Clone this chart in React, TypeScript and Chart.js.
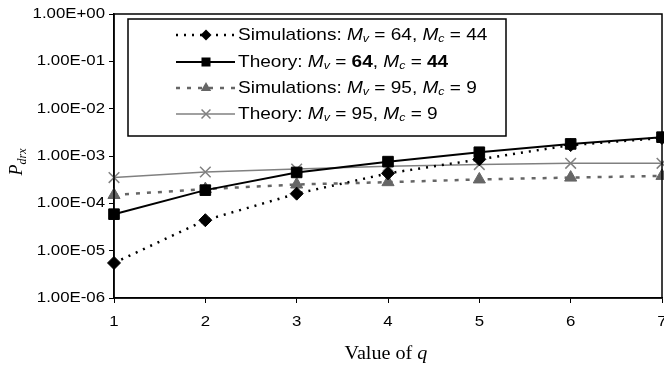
import React, { useEffect, useRef } from "react";
import { Chart, registerables } from "chart.js";

Chart.register(...registerables);

const qValues = [1, 2, 3, 4, 5, 6, 7];
const simA = [5.5e-6, 4.4e-5, 1.6e-4, 4.3e-4, 8.5e-4, 1.7e-3, 2.4e-3];
const theoryA = [5.9e-5, 1.9e-4, 4.5e-4, 7.6e-4, 1.2e-3, 1.8e-3, 2.5e-3];
const simB = [1.5e-4, 2.0e-4, 2.5e-4, 2.8e-4, 3.2e-4, 3.5e-4, 3.8e-4];
const theoryB = [3.5e-4, 4.6e-4, 5.3e-4, 6.1e-4, 6.6e-4, 7.0e-4, 7.0e-4];
const yTickValues = [1e-6, 1e-5, 1e-4, 1e-3, 1e-2, 1e-1, 1];
const yTickLabels = ["1.00E-06", "1.00E-05", "1.00E-04", "1.00E-03", "1.00E-02", "1.00E-01", "1.00E+00"];
const xTickLabels = ["1", "2", "3", "4", "5", "6", "7"];

type Seg = { t: string; s: "n" | "i" | "b" | "sub" };
const legendTexts: Seg[][] = [
  [{ t: "Simulations: ", s: "n" }, { t: "M", s: "i" }, { t: "v", s: "sub" }, { t: " = 64, ", s: "n" }, { t: "M", s: "i" }, { t: "c", s: "sub" }, { t: " = 44", s: "n" }],
  [{ t: "Theory: ", s: "n" }, { t: "M", s: "i" }, { t: "v", s: "sub" }, { t: " = ", s: "n" }, { t: "64", s: "b" }, { t: ", ", s: "n" }, { t: "M", s: "i" }, { t: "c", s: "sub" }, { t: " = ", s: "n" }, { t: "44", s: "b" }],
  [{ t: "Simulations: ", s: "n" }, { t: "M", s: "i" }, { t: "v", s: "sub" }, { t: " = 95, ", s: "n" }, { t: "M", s: "i" }, { t: "c", s: "sub" }, { t: " = 9", s: "n" }],
  [{ t: "Theory: ", s: "n" }, { t: "M", s: "i" }, { t: "v", s: "sub" }, { t: " = 95, ", s: "n" }, { t: "M", s: "i" }, { t: "c", s: "sub" }, { t: " = 9", s: "n" }],
];

const SANS = "Arial, 'Liberation Sans', sans-serif";
const SERIF = "'Times New Roman', 'Liberation Serif', serif";
const STRETCH = 1.12;

const datasetsStyle = [
  { color: "#000", width: 2.5, dash: [2, 6], point: "rectRot", r: 6.5 },
  { color: "#000", width: 2, dash: [] as number[], point: "rect", r: 7.5 },
  { color: "#666", width: 2.5, dash: [4, 7], point: "triangle", r: 7 },
  { color: "#808080", width: 1.5, dash: [] as number[], point: "crossRot", r: 7.5 },
];

function marker(ctx: CanvasRenderingContext2D, style: string, r: number, color: string, x: number, y: number) {
  ctx.save();
  ctx.fillStyle = color;
  ctx.strokeStyle = color;
  ctx.setLineDash([]);
  ctx.beginPath();
  if (style === "rectRot") {
    ctx.moveTo(x, y - r); ctx.lineTo(x + r, y); ctx.lineTo(x, y + r); ctx.lineTo(x - r, y); ctx.closePath(); ctx.fill();
  } else if (style === "rect") {
    const s = r / Math.SQRT2;
    ctx.rect(x - s, y - s, 2 * s, 2 * s); ctx.fill();
  } else if (style === "triangle") {
    ctx.moveTo(x, y - r); ctx.lineTo(x + r * 0.87, y + r * 0.5); ctx.lineTo(x - r * 0.87, y + r * 0.5); ctx.closePath(); ctx.fill();
  } else {
    const s = r * 0.7;
    ctx.lineWidth = 1.5;
    ctx.moveTo(x - s, y - s); ctx.lineTo(x + s, y + s); ctx.moveTo(x + s, y - s); ctx.lineTo(x - s, y + s); ctx.stroke();
  }
  ctx.restore();
}

function stretchedText(ctx: CanvasRenderingContext2D, text: string, x: number, y: number, font: string, align: "left" | "right" | "center") {
  ctx.save();
  ctx.font = font;
  const w = ctx.measureText(text).width * STRETCH;
  let x0 = x;
  if (align === "right") x0 = x - w;
  if (align === "center") x0 = x - w / 2;
  ctx.translate(x0, y);
  ctx.scale(STRETCH, 1);
  ctx.textAlign = "left";
  ctx.fillText(text, 0, 0);
  ctx.restore();
  return w;
}

const overlay = {
  id: "overlay",
  afterDraw(chart: any) {
    const ctx = chart.ctx;
    const a = chart.chartArea;
    const xs = chart.scales.x;
    const ys = chart.scales.y;
    ctx.save();
    ctx.strokeStyle = "#000";
    ctx.lineWidth = 1.5;
    ctx.strokeRect(a.left, a.top, a.right - a.left, a.bottom - a.top);

    ctx.fillStyle = "#000";
    ctx.textBaseline = "middle";
    yTickValues.forEach((v, i) => {
      stretchedText(ctx, yTickLabels[i], 105, ys.getPixelForValue(v), `15px ${SANS}`, "right");
    });
    qValues.forEach((v, i) => {
      stretchedText(ctx, xTickLabels[i], xs.getPixelForValue(v), 322, `15px ${SANS}`, "center");
    });

    const bx = 128, by = 19, bw = 378, bh = 117;
    ctx.fillStyle = "#fff";
    ctx.fillRect(bx, by, bw, bh);
    ctx.strokeStyle = "#000";
    ctx.lineWidth = 1.5;
    ctx.strokeRect(bx, by, bw, bh);
    const rows = [35, 62, 88, 114];
    rows.forEach((ry, i) => {
      const st = datasetsStyle[i];
      ctx.strokeStyle = st.color;
      ctx.lineWidth = st.width;
      ctx.setLineDash(st.dash);
      ctx.beginPath();
      ctx.moveTo(176, ry);
      ctx.lineTo(235, ry);
      ctx.stroke();
      ctx.setLineDash([]);
      marker(ctx, st.point, st.r * 0.85, st.color, 206, ry);
      let x = 238;
      ctx.fillStyle = "#000";
      ctx.textBaseline = "middle";
      for (const seg of legendTexts[i]) {
        let font = `17px ${SANS}`;
        let dy = 0;
        if (seg.s === "i") font = `italic 17px ${SANS}`;
        if (seg.s === "b") font = `bold 17px ${SANS}`;
        if (seg.s === "sub") { font = `italic 11px ${SANS}`; dy = 4; }
        x += stretchedText(ctx, seg.t, x, ry + dy, font, "left");
      }
    });

    ctx.textBaseline = "alphabetic";
    ctx.fillStyle = "#000";
    const t1 = "Value of ";
    ctx.font = `18px ${SERIF}`;
    const w1 = ctx.measureText(t1).width * STRETCH;
    ctx.font = `italic 18px ${SERIF}`;
    const w2 = ctx.measureText("q").width * STRETCH;
    const cx = 386 - (w1 + w2) / 2;
    stretchedText(ctx, t1, cx, 359, `18px ${SERIF}`, "left");
    stretchedText(ctx, "q", cx + w1, 359, `italic 18px ${SERIF}`, "left");

    ctx.translate(22, 162);
    ctx.rotate(-Math.PI / 2);
    ctx.font = `italic 18px ${SERIF}`;
    const pw = ctx.measureText("P").width;
    ctx.font = `italic 12px ${SERIF}`;
    const sw = ctx.measureText("drx").width;
    const sx = -(pw + sw) / 2;
    ctx.font = `italic 18px ${SERIF}`;
    ctx.fillText("P", sx, 0);
    ctx.font = `italic 12px ${SERIF}`;
    ctx.fillText("drx", sx + pw, 4);
    ctx.restore();
  },
};

export default function App() {
  const ref = useRef<HTMLCanvasElement>(null);
  useEffect(() => {
    document.body.style.margin = "0";
    const series = [simA, theoryA, simB, theoryB];
    const names = ["Simulations 64/44", "Theory 64/44", "Simulations 95/9", "Theory 95/9"];
    const chart = new Chart(ref.current!, {
      type: "line",
      data: {
        datasets: series.map((vals, i) => {
          const st = datasetsStyle[i];
          return {
            label: names[i],
            data: qValues.map((q, k) => ({ x: q, y: vals[k] })),
            borderColor: st.color,
            backgroundColor: st.color,
            borderWidth: st.width,
            borderDash: st.dash,
            pointStyle: st.point as any,
            pointRadius: st.r,
            pointBorderWidth: st.point === "crossRot" ? 1.5 : 1,
            pointBorderColor: st.color,
            pointBackgroundColor: st.color,
            tension: 0,
            clip: false as any,
          };
        }),
      },
      options: {
        animation: false,
        responsive: false,
        layout: { autoPadding: false, padding: { top: 14, right: 2, left: 0, bottom: 0 } },
        plugins: { legend: { display: false }, tooltip: { enabled: false } },
        scales: {
          x: {
            type: "linear",
            min: 1,
            max: 7,
            afterBuildTicks: (s: any) => { s.ticks = qValues.map((v) => ({ value: v })); },
            afterFit: (s: any) => { s.height = 70; },
            ticks: { display: false },
            grid: { display: true, drawOnChartArea: false, drawTicks: true, tickLength: 5, color: "#000" },
            border: { display: true, color: "#000", width: 1.5 },
          },
          y: {
            type: "logarithmic",
            min: 1e-6,
            max: 1,
            afterBuildTicks: (s: any) => { s.ticks = yTickValues.map((v) => ({ value: v })); },
            afterFit: (s: any) => { s.width = 114; },
            ticks: { display: false },
            grid: { display: true, drawOnChartArea: false, drawTicks: true, tickLength: 5, color: "#000" },
            border: { display: true, color: "#000", width: 1.5 },
          },
        },
      },
      plugins: [overlay],
    });
    return () => chart.destroy();
  }, []);
  return <canvas ref={ref} width={664} height={368} style={{ display: "block" }} />;
}
